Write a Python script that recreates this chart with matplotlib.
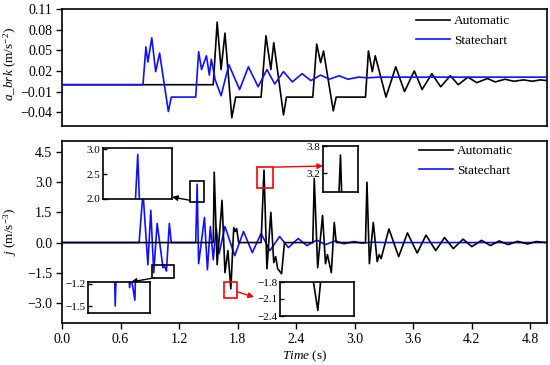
import numpy as np
import matplotlib
matplotlib.use('Agg')
import matplotlib.pyplot as plt
from matplotlib.patches import Rectangle
from matplotlib.ticker import FuncFormatter

# Fonts (Times-like)
plt.rcParams['font.family'] = ['Liberation Serif', 'DejaVu Serif']
plt.rcParams['font.size'] = 10
plt.rcParams['mathtext.fontset'] = 'custom'
plt.rcParams['mathtext.rm'] = 'Liberation Serif'
plt.rcParams['mathtext.it'] = 'Liberation Serif:italic'

# ---- data ----
# acceleration a_brk, Automatic
t_acc_auto = [0, 1.55, 1.59, 1.63, 1.67, 1.70, 1.74, 1.78, 2.04, 2.09, 2.14, 2.17, 2.27, 2.30,
              2.57, 2.61, 2.65, 2.68, 2.78, 2.81, 3.11, 3.14, 3.18, 3.21, 3.32, 3.42, 3.51,
              3.61, 3.69, 3.79, 3.88, 3.98, 4.06, 4.16, 4.25, 4.36, 4.44, 4.54, 4.63, 4.73,
              4.82, 4.90, 4.97]
acc_auto = [0, 0, 0.091, 0.022, 0.075, 0.022, -0.048, -0.018, -0.018, 0.071, 0.022, 0.061,
            -0.044, -0.018, -0.018, 0.059, 0.032, 0.049, -0.038, -0.018, -0.018, 0.049, 0.019,
            0.042, -0.018, 0.026, -0.010, 0.020, -0.007, 0.016, -0.003, 0.013, 0.000, 0.011,
            0.003, 0.009, 0.004, 0.008, 0.005, 0.007, 0.005, 0.007, 0.006]

# acceleration a_brk, Statechart
t_acc_state = [0, 0.83, 0.86, 0.88, 0.92, 0.96, 1.00, 1.09, 1.12, 1.37, 1.40, 1.43, 1.48,
               1.51, 1.53, 1.57, 1.63, 1.71, 1.82, 1.91, 2.01, 2.10, 2.18, 2.27, 2.36, 2.46,
               2.55, 2.65, 2.74, 2.84, 2.93, 3.04, 3.13, 3.25, 4.97]
acc_state = [0, 0, 0.055, 0.033, 0.068, 0.019, 0.046, -0.039, -0.018, -0.018, 0.048, 0.022,
             0.042, 0.014, 0.037, 0.007, -0.016, 0.029, -0.007, 0.026, -0.003, 0.022, 0.001,
             0.019, 0.004, 0.016, 0.006, 0.014, 0.008, 0.013, 0.008, 0.011, 0.010, 0.011, 0.011]

# jerk j, Automatic
t_jerk_auto = [0, 1.55, 1.56, 1.59, 1.64, 1.67, 1.70, 1.73, 1.76, 1.775, 1.79, 1.81, 2.04,
               2.07, 2.10, 2.14, 2.17, 2.19, 2.21, 2.25, 2.28, 2.57, 2.585, 2.62, 2.67, 2.70,
               2.72, 2.76, 2.79, 2.81, 3.11, 3.125, 3.15, 3.19, 3.23, 3.25, 3.27, 3.35, 3.45,
               3.54, 3.64, 3.73, 3.83, 3.92, 4.01, 4.11, 4.20, 4.30, 4.39, 4.48, 4.57, 4.67,
               4.77, 4.86, 4.97]
jerk_auto = [0, 0, 3.5, -1.1, 2.1, -1.5, -0.4, -2.3, 0.75, 0.55, 0.7, 0, 0,
             3.6, -1.3, 1.5, -1.0, -0.7, -1.3, -1.55, 0, 0, 3.2, -1.25, 1.35, -1.05,
             -0.6, -1.5, 1.0, 0, 0, 3.0, -1.05, 1.0, -0.95, -0.6, -0.8, 0.68, -0.7,
             0.48, -0.52, 0.37, -0.4, 0.25, -0.3, 0.17, -0.2, 0.11, -0.15, 0.08, -0.1, 0.06,
             -0.07, 0.05, 0]

# jerk j, Statechart
t_jerk_state = [0, 0.79, 0.83, 0.88, 0.91, 0.94, 0.975, 1.035, 1.045, 1.07, 1.10, 1.12, 1.37,
                1.385, 1.40, 1.46, 1.49, 1.52, 1.55, 1.58, 1.61, 1.67, 1.77, 1.86, 1.95, 2.04,
                2.13, 2.23, 2.32, 2.42, 2.51, 2.61, 2.70, 2.80, 2.89, 2.99, 3.08, 3.18, 3.30,
                4.97]
jerk_state = [0, 0, 2.5, -1.1, 1.6, -1.5, 0.95, -1.25, -1.1, -1.42, 0.95, 0, 0,
              2.9, -1.05, 1.25, -1.35, 0.8, -0.85, 0.75, -0.55, 0.8, -0.65, 0.55, -0.5, 0.45,
              -0.4, 0.3, -0.25, 0.2, -0.15, 0.12, -0.1, 0.08, -0.06, 0.05, -0.03, 0.02, 0, 0]

acc_ticks = [-0.04, -0.01, 0.02, 0.05, 0.08, 0.11]
jerk_ticks = [-3.0, -1.5, 0.0, 1.5, 3.0, 4.5]
time_ticks = [0.0, 0.6, 1.2, 1.8, 2.4, 3.0, 3.6, 4.2, 4.8]

W, H = 550, 365


def fig_frac(px, py):
    return px / W, 1 - py / H


def box(x0, y0, x1, y1):
    # pixel box (top-left origin) -> add_axes rect
    return [x0 / W, 1 - y1 / H, (x1 - x0) / W, (y1 - y0) / H]


def fmt(dec):
    return FuncFormatter(lambda v, p: f'{v:.{dec}f}'.replace('-', '\u2212'))


fig = plt.figure(figsize=(5.5, 3.65), dpi=100)
ax1 = fig.add_axes(box(62, 9, 547, 126))
ax2 = fig.add_axes(box(62, 141, 547, 323))

leg_kw = dict(frameon=False, borderpad=0, borderaxespad=0, handlelength=2.6,
              handletextpad=0.3, labelspacing=0.55, fontsize=9.5)

# Top panel
ax1.plot(t_acc_auto, acc_auto, color='black', lw=1.2, label='Automatic', zorder=2)
ax1.plot(t_acc_state, acc_state, color='#1010ff', lw=1.2, label='Statechart', zorder=3)
ax1.set_xlim(0, 4.97)
ax1.set_ylim(-0.06, 0.11)
ax1.set_yticks(acc_ticks)
ax1.yaxis.set_major_formatter(fmt(2))
ax1.set_xticks([])
ax1.set_ylabel(r'$a\_brk$ (m/s$^{-2}$)', fontsize=9.5)
ax1.yaxis.set_label_coords(-0.088, 0.53)
ax1.legend(loc='upper left', bbox_to_anchor=((416 - 62) / 485, (126 - 15) / 117), **leg_kw)

# Bottom panel
ax2.plot(t_jerk_auto, jerk_auto, color='black', lw=1.2, label='Automatic', zorder=3)
ax2.plot(t_jerk_state, jerk_state, color='#1010ff', lw=1.2, label='Statechart', zorder=2)
ax2.set_xlim(0, 4.97)
ax2.set_ylim(-4.0, 5.05)
ax2.set_yticks(jerk_ticks)
ax2.yaxis.set_major_formatter(fmt(1))
ax2.set_xticks(time_ticks)
ax2.xaxis.set_major_formatter(fmt(1))
ax2.set_ylabel(r'$j$ (m/s$^{-3}$)', fontsize=9.5)
ax2.yaxis.set_label_coords(-0.088, 0.5)
ax2.set_xlabel(r'$Time$ (s)', fontsize=9.5)
ax2.xaxis.set_label_coords(0.5, -0.14)
ax2.legend(loc='upper left', bbox_to_anchor=((419 - 62) / 485, (323 - 145) / 182), **leg_kw)

for ax in (ax1, ax2):
    ax.tick_params(direction='out', length=4, width=1, labelsize=10, pad=3)
    for s in ax.spines.values():
        s.set_linewidth(1.2)

# Marker boxes on the bottom panel (time, jerk ranges)
marks = [((1.313, 2.0), 0.143, 1.05, 'black'),
         ((0.923, -1.75), 0.226, 0.65, 'black'),
         ((2.0, 2.7), 0.164, 1.05, 'red'),
         ((1.662, -2.75), 0.133, 0.8, 'red')]
for xy, w, h, c in marks:
    ax2.add_patch(Rectangle(xy, w, h, fill=False, ec=c, lw=1.2, zorder=5))

# Arrows from marker boxes to insets
arrows = [((1.313, 2.1), (172, 197), 'black'),
          ((0.95, -1.75), (131, 282), 'black'),
          ((2.164, 3.75), (323, 166), 'red'),
          ((1.795, -2.45), (254, 297), 'red')]
for src, dst, c in arrows:
    ax2.annotate('', xy=fig_frac(*dst), xycoords='figure fraction', xytext=src,
                 textcoords='data', annotation_clip=False,
                 arrowprops=dict(arrowstyle='-|>', color=c, lw=1.0, shrinkA=0, shrinkB=0,
                                 mutation_scale=8))

# Insets
insets = [(box(103, 148, 172, 199), (1.313, 1.456), (2.0, 3.03), [2.0, 2.5, 3.0]),
          (box(88, 282, 150, 313), (0.76, 1.17), (-1.595, -1.173), [-1.2, -1.5]),
          (box(323, 146, 358, 192), (1.99, 2.15), (2.78, 3.8), [3.2, 3.8]),
          (box(280, 282, 354, 316), (1.662, 1.795), (-2.4, -1.8), [-2.4, -2.1, -1.8])]
for rect, xl, yl, yt in insets:
    ins = fig.add_axes(rect)
    ins.plot(t_jerk_state, jerk_state, color='#1010ff', lw=1.2)
    ins.plot(t_jerk_auto, jerk_auto, color='black', lw=1.2)
    ins.set_xlim(*xl)
    ins.set_ylim(*yl)
    ins.set_xticks([])
    ins.set_yticks(yt)
    ins.yaxis.set_major_formatter(fmt(1))
    ins.tick_params(direction='in', length=3, width=1, labelsize=8, pad=2)
    for s in ins.spines.values():
        s.set_linewidth(1.2)

fig.savefig('out.png', dpi=100)
